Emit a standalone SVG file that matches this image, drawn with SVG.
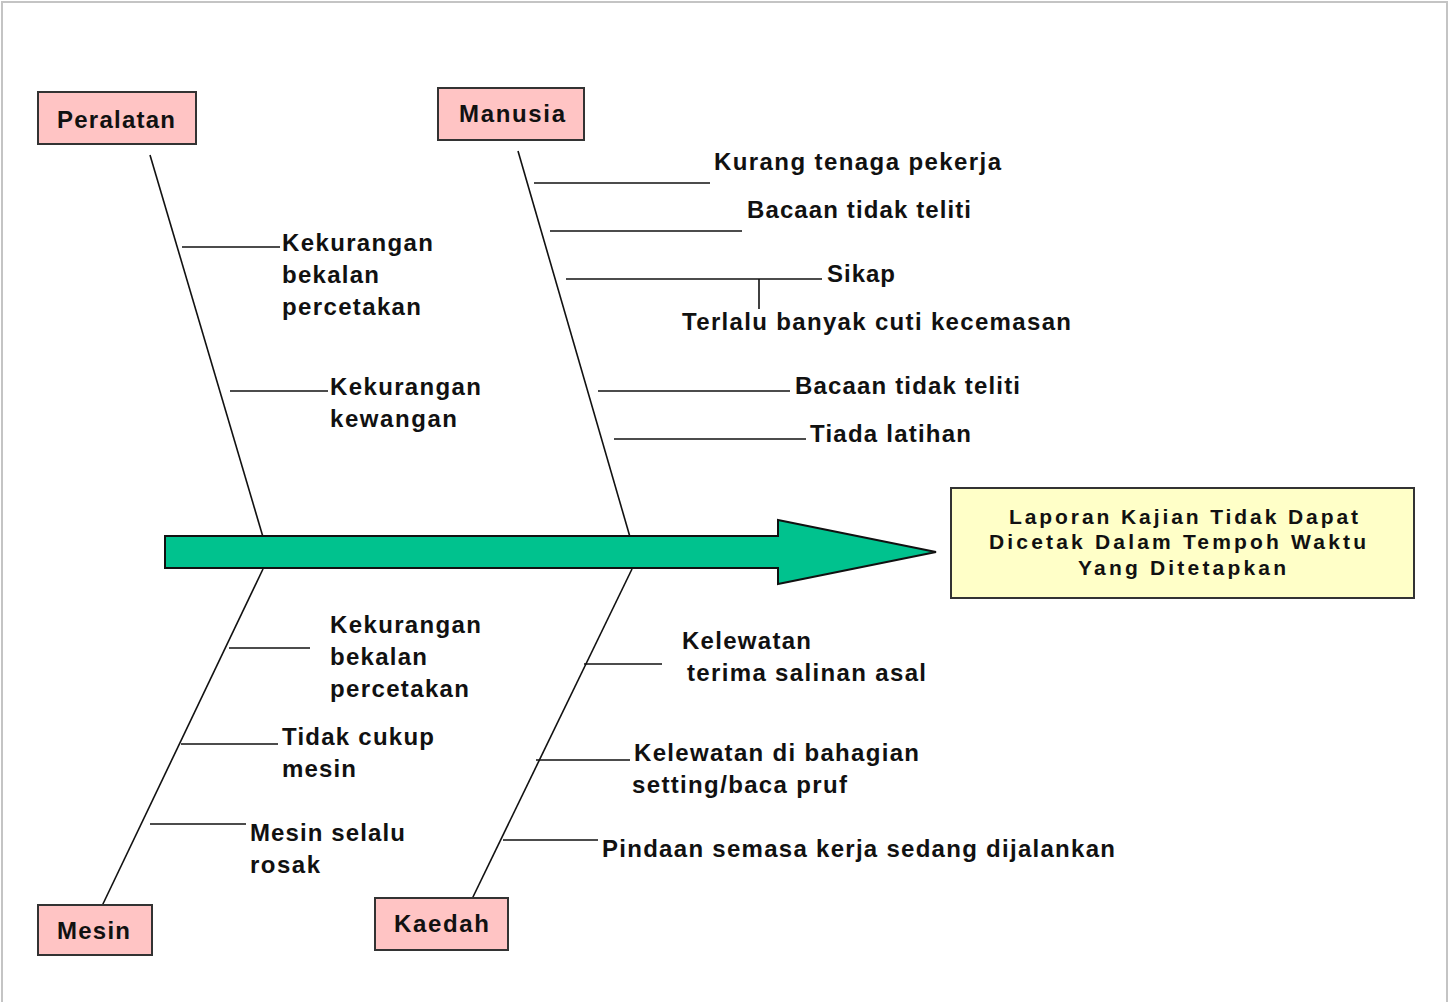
<svg xmlns="http://www.w3.org/2000/svg" width="1449" height="1002" viewBox="0 0 1449 1002">
<style>
.t{font-family:"Liberation Sans",Arial,sans-serif;font-weight:bold;font-size:24px;fill:#111}
.e{font-size:21px}
.box{fill:#ffc4c4;stroke:#333;stroke-width:2}
.ln{stroke:#111;stroke-width:1.6;fill:none}
</style>
<rect x="2" y="2" width="1445" height="1020" fill="#fff" stroke="#c4c4c4" stroke-width="2"/>
<g id="connectors">
<line class="ln" x1="150" y1="155" x2="263" y2="537"/>
<line class="ln" x1="263" y1="569" x2="102" y2="906"/>
<line class="ln" x1="518" y1="151" x2="630" y2="537"/>
<line class="ln" x1="632" y1="569" x2="472" y2="899"/>
<line class="ln" x1="182" y1="247" x2="280" y2="247"/>
<line class="ln" x1="230" y1="391" x2="328" y2="391"/>
<line class="ln" x1="534" y1="183" x2="710" y2="183"/>
<line class="ln" x1="550" y1="231" x2="742" y2="231"/>
<line class="ln" x1="566" y1="279" x2="822" y2="279"/>
<line class="ln" x1="759" y1="279" x2="759" y2="309"/>
<line class="ln" x1="598" y1="391" x2="790" y2="391"/>
<line class="ln" x1="614" y1="439" x2="806" y2="439"/>
<line class="ln" x1="229" y1="648" x2="310" y2="648"/>
<line class="ln" x1="181" y1="744" x2="278" y2="744"/>
<line class="ln" x1="150" y1="824" x2="246" y2="824"/>
<line class="ln" x1="584" y1="664" x2="662" y2="664"/>
<line class="ln" x1="536" y1="760" x2="630" y2="760"/>
<line class="ln" x1="503" y1="840" x2="598" y2="840"/>
</g>
<g id="spine">
<polygon points="165,536 778,536 778,520 936,552 778,584 778,568 165,568" fill="#00c28e" stroke="#111" stroke-width="2"/>
</g>
<g id="peralatan">
<rect class="box" x="38" y="92" width="158" height="52"/>
<text class="t" x="57" y="128" textLength="118" lengthAdjust="spacing">Peralatan</text>
</g>
<g id="manusia">
<rect class="box" x="438" y="88" width="146" height="52"/>
<text class="t" x="459" y="122" textLength="106" lengthAdjust="spacing">Manusia</text>
</g>
<g id="mesin">
<rect class="box" x="38" y="905" width="114" height="50"/>
<text class="t" x="57" y="939" textLength="73" lengthAdjust="spacing">Mesin</text>
</g>
<g id="kaedah">
<rect class="box" x="375" y="898" width="133" height="52"/>
<text class="t" x="394" y="932" textLength="95" lengthAdjust="spacing">Kaedah</text>
</g>
<g id="effect">
<rect x="951" y="488" width="463" height="110" fill="#ffffc8" stroke="#333" stroke-width="2"/>
<text class="t e" x="1009" y="524" textLength="349" lengthAdjust="spacing">Laporan Kajian Tidak Dapat</text>
<text class="t e" x="989" y="549" textLength="377" lengthAdjust="spacing">Dicetak Dalam Tempoh Waktu</text>
<text class="t e" x="1078" y="575" textLength="208" lengthAdjust="spacing">Yang Ditetapkan</text>
</g>
<g id="cause-peralatan-1">
<text class="t" x="282" y="251" textLength="151" lengthAdjust="spacing">Kekurangan</text>
<text class="t" x="282" y="283" textLength="97" lengthAdjust="spacing">bekalan</text>
<text class="t" x="282" y="315" textLength="139" lengthAdjust="spacing">percetakan</text>
</g>
<g id="cause-peralatan-2">
<text class="t" x="330" y="395" textLength="151" lengthAdjust="spacing">Kekurangan</text>
<text class="t" x="330" y="427" textLength="127" lengthAdjust="spacing">kewangan</text>
</g>
<g id="cause-manusia">
<text class="t" x="714" y="170" textLength="287" lengthAdjust="spacing">Kurang tenaga pekerja</text>
<text class="t" x="747" y="218" textLength="224" lengthAdjust="spacing">Bacaan tidak teliti</text>
<text class="t" x="827" y="282" textLength="68" lengthAdjust="spacing">Sikap</text>
<text class="t" x="682" y="330" textLength="389" lengthAdjust="spacing">Terlalu banyak cuti kecemasan</text>
<text class="t" x="795" y="394" textLength="225" lengthAdjust="spacing">Bacaan tidak teliti</text>
<text class="t" x="810" y="442" textLength="161" lengthAdjust="spacing">Tiada latihan</text>
</g>
<g id="cause-mesin">
<text class="t" x="330" y="633" textLength="151" lengthAdjust="spacing">Kekurangan</text>
<text class="t" x="330" y="665" textLength="97" lengthAdjust="spacing">bekalan</text>
<text class="t" x="330" y="697" textLength="139" lengthAdjust="spacing">percetakan</text>
<text class="t" x="282" y="745" textLength="152" lengthAdjust="spacing">Tidak cukup</text>
<text class="t" x="282" y="777" textLength="74" lengthAdjust="spacing">mesin</text>
<text class="t" x="250" y="841" textLength="155" lengthAdjust="spacing">Mesin selalu</text>
<text class="t" x="250" y="873" textLength="70" lengthAdjust="spacing">rosak</text>
</g>
<g id="cause-kaedah">
<text class="t" x="682" y="649" textLength="129" lengthAdjust="spacing">Kelewatan</text>
<text class="t" x="687" y="681" textLength="239" lengthAdjust="spacing">terima salinan asal</text>
<text class="t" x="634" y="761" textLength="285" lengthAdjust="spacing">Kelewatan di bahagian</text>
<text class="t" x="632" y="793" textLength="215" lengthAdjust="spacing">setting/baca pruf</text>
<text class="t" x="602" y="857" textLength="513" lengthAdjust="spacing">Pindaan semasa kerja sedang dijalankan</text>
</g>
</svg>
